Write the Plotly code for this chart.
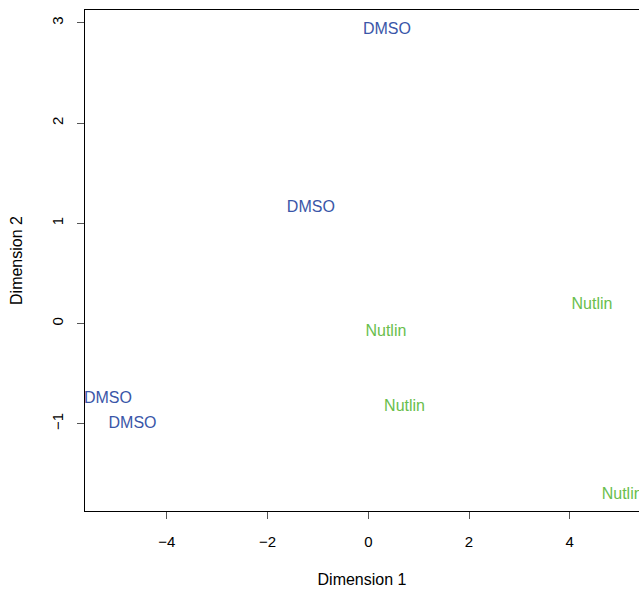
import plotly.graph_objects as go

labels = ["DMSO", "DMSO", "DMSO", "DMSO", "Nutlin", "Nutlin", "Nutlin", "Nutlin"]
dim1 = [0.37, -1.14, -5.17, -4.68, 0.35, 4.44, 0.72, 5.04]
dim2 = [2.925, 1.15, -0.755, -1.005, -0.08, 0.18, -0.835, -1.71]
color_map = {"DMSO": "#3A56A8", "Nutlin": "#69BE4C"}

fig = go.Figure()
for grp in ["DMSO", "Nutlin"]:
    xs = [x for x, l in zip(dim1, labels) if l == grp]
    ys = [y for y, l in zip(dim2, labels) if l == grp]
    fig.add_trace(go.Scatter(
        x=xs, y=ys, mode="text", text=[grp] * len(xs),
        textposition="middle center",
        textfont=dict(color=color_map[grp], size=16, family="Liberation Sans, Arial, sans-serif"),
        cliponaxis=False, showlegend=False, hoverinfo="skip"))

axis_font = dict(family="Liberation Sans, Arial, sans-serif", size=15, color="black")
fig.update_layout(
    width=639, height=589,
    margin=dict(l=85, r=0, t=10, b=78),
    plot_bgcolor="white", paper_bgcolor="white",
    font=axis_font,
    xaxis=dict(range=[-5.624, 5.374], tickvals=[-4, -2, 0, 2, 4],
               ticktext=["\u22124", "\u22122", "0", "2", "4"],
               showgrid=False, zeroline=False, showline=True, linecolor="black",
               linewidth=1, mirror=True, ticks="outside", ticklen=7, tickcolor="#555",
               ticklabelstandoff=10,
               title=dict(text="Dimension 1", standoff=24, font=dict(size=16))),
    yaxis=dict(range=[-1.871, 3.129], tickvals=[-1, 0, 1, 2, 3],
               ticktext=["\u22121", "0", "1", "2", "3"], tickangle=-90,
               showgrid=False, zeroline=False, showline=True, linecolor="black",
               linewidth=1, mirror=False, ticks="outside", ticklen=7, tickcolor="#555",
               ticklabelstandoff=8,
               title=dict(text="Dimension 2", standoff=22, font=dict(size=16))),
)
fig.write_html("out.html", config={"displayModeBar": False},
               post_script="document.body.style.margin='0';document.body.style.overflow='hidden';")
